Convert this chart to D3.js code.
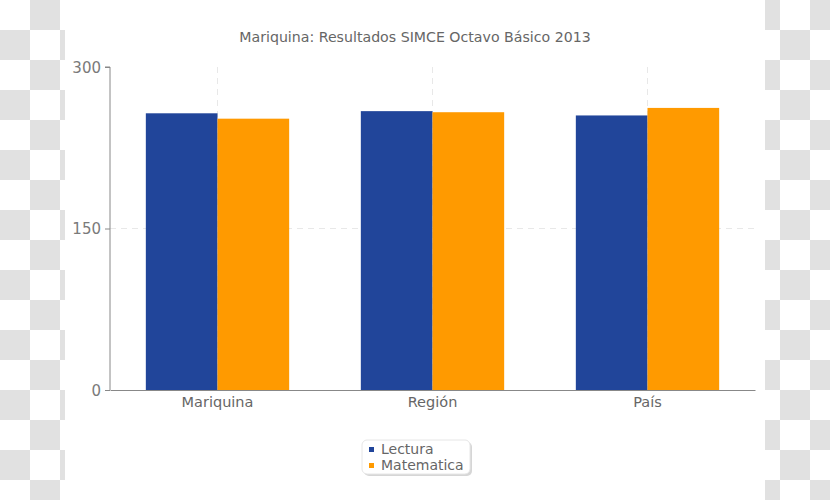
<!DOCTYPE html>
<html>
<head>
<meta charset="utf-8">
<script src="https://cdn.jsdelivr.net/npm/d3@7"></script>
<style>
  html, body { margin: 0; padding: 0; background: #fff; }
  svg { display: block; }
  text { font-family: "DejaVu Sans", sans-serif; fill: #666; }
</style>
</head>
<body>
<svg id="chart" width="830" height="500"></svg>
<script>
const title = "Mariquina: Resultados SIMCE Octavo Básico 2013";
const categories = ["Mariquina", "Región", "País"];
const seriesNames = ["Lectura", "Matematica"];
const lectura = [257, 259, 255];
const matematica = [252, 258, 262];
const yTicks = [0, 150, 300];
const colors = ["#21459a", "#ff9a00"];

const svg = d3.select("#chart");
const W = 830, H = 500;

// transparent-style checkerboard on both sides
const bg = svg.append("g");
const sq = 30;
const sideRegions = [[0, 65], [765, 830]];
for (const [x0, x1] of sideRegions) {
  for (let c = Math.floor(x0 / sq); c * sq < x1; c++) {
    for (let r = 0; r * sq < H; r++) {
      if ((c + r) % 2 === 1) {
        const xs = Math.max(c * sq, x0), xe = Math.min((c + 1) * sq, x1);
        bg.append("rect").attr("x", xs).attr("y", r * sq)
          .attr("width", xe - xs).attr("height", sq).attr("fill", "#e1e1e1");
      }
    }
  }
}

const margin = { left: 110, right: 75, top: 67, bottom: 110 };
const x = d3.scaleBand().domain(categories).range([margin.left, W - margin.right]).paddingInner(0).paddingOuter(0);
const y = d3.scaleLinear().domain([0, 300]).range([H - margin.bottom, margin.top]);
const xs = d3.scaleBand().domain(seriesNames).range([0, x.bandwidth()]).paddingInner(0).paddingOuter(0.5);

// gridlines
const grid = svg.append("g");
grid.selectAll("line.h").data([150]).join("line")
  .attr("x1", margin.left).attr("x2", W - margin.right)
  .attr("y1", d => y(d)).attr("y2", d => y(d))
  .attr("stroke", "#e8e8e8").attr("stroke-dasharray", "6,5");
grid.selectAll("line.v").data(categories).join("line")
  .attr("x1", d => x(d) + x.bandwidth() / 2).attr("x2", d => x(d) + x.bandwidth() / 2)
  .attr("y1", y(300)).attr("y2", y(0))
  .attr("stroke", "#e8e8e8").attr("stroke-dasharray", "6,5");

// bars
const data = categories.map((c, i) => ({ cat: c, vals: [lectura[i], matematica[i]] }));
const groups = svg.append("g").selectAll("g").data(data).join("g")
  .attr("transform", d => `translate(${x(d.cat)},0)`);
groups.selectAll("rect").data(d => d.vals.map((v, j) => ({ v, s: seriesNames[j], j })))
  .join("rect")
  .attr("x", d => xs(d.s)).attr("width", xs.bandwidth())
  .attr("y", d => y(d.v)).attr("height", d => y(0) - y(d.v))
  .attr("fill", d => colors[d.j]);

// y axis
const yAxis = svg.append("g").attr("transform", `translate(${margin.left},0)`)
  .call(d3.axisLeft(y).tickValues(yTicks).tickSize(5).tickPadding(4).tickFormat(d3.format("d")));
yAxis.select(".domain").attr("stroke", "#888").attr("d", `M-5,${y(300)}H0V${y(0)}`);
yAxis.selectAll(".tick line").attr("stroke", "#888");
yAxis.selectAll("text").style("font-size", "15px").style("fill", "#7a7a7a")
  .style("font-family", "'DejaVu Sans', sans-serif").attr("dy", "0.35em");

// x axis
const xAxis = svg.append("g").attr("transform", `translate(0,${y(0)})`)
  .call(d3.axisBottom(x).tickSize(0).tickPadding(7));
xAxis.select(".domain").attr("stroke", "#888");
xAxis.selectAll("text").style("font-size", "14.5px").style("fill", "#666")
  .style("font-family", "'DejaVu Sans', sans-serif");

// title
const t = svg.append("text").attr("x", 415).attr("y", 42).attr("text-anchor", "middle")
  .style("font-size", "14.5px").style("fill", "#666").text(title);
const tl = t.node().getComputedTextLength();
if (tl > 0) t.style("font-size", (14.5 * 352 / tl) + "px");

// legend
const lg = svg.append("g").attr("transform", "translate(362,440)");
lg.append("rect").attr("x", 2).attr("y", 2).attr("width", 108).attr("height", 34).attr("rx", 5)
  .attr("fill", "#bbb").attr("opacity", 0.6);
lg.append("rect").attr("x", 0).attr("y", 0).attr("width", 108).attr("height", 34).attr("rx", 5)
  .attr("fill", "#fff").attr("stroke", "#e6e6e6");
seriesNames.forEach((s, i) => {
  lg.append("rect").attr("x", 7).attr("y", 9 + i * 16 - 2).attr("width", 5).attr("height", 5).attr("fill", colors[i]);
  lg.append("text").attr("x", 19).attr("y", 14 + i * 16).style("font-size", "14px").style("fill", "#666").text(s);
});
</script>
</body>
</html>
